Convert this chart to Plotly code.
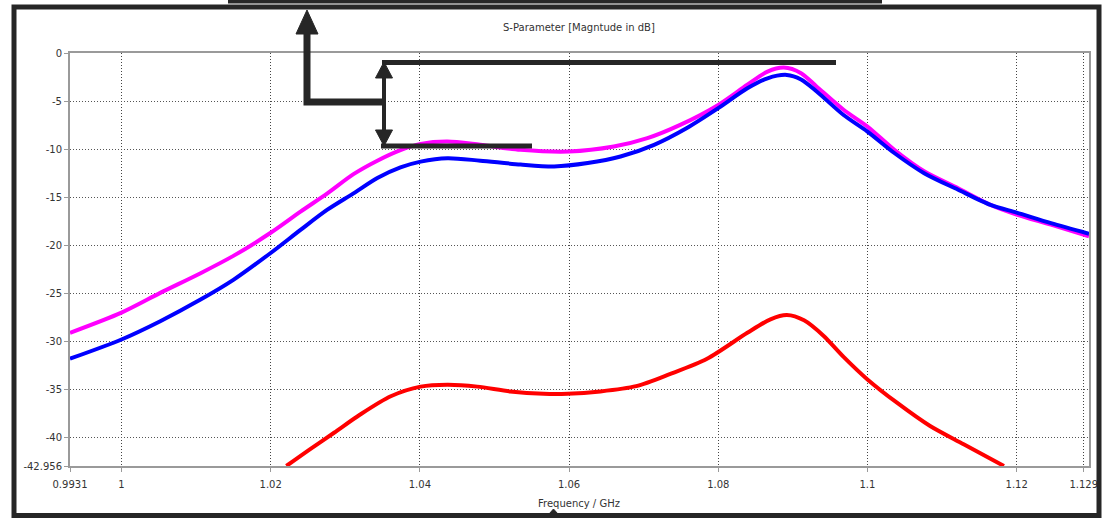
import plotly.graph_objects as go

# ---- data ----
freq_s11 = [0.9931, 1.0, 1.0052, 1.0106, 1.015, 1.02, 1.024, 1.0276, 1.0311, 1.0343, 1.0374,
            1.0401, 1.0437, 1.0481, 1.0535, 1.06, 1.066, 1.0705, 1.0749, 1.08, 1.0839, 1.0866,
            1.0888, 1.0911, 1.0932, 1.0968, 1.1, 1.1036, 1.1076, 1.1121, 1.1165, 1.12, 1.1246, 1.1297]
mag_s11 = [-29.1, -27.0, -24.95, -22.9, -21.1, -18.7, -16.5, -14.6, -12.6, -11.2, -10.1,
           -9.45, -9.2, -9.55, -10.07, -10.25, -9.73, -8.86, -7.48, -5.4, -3.3, -1.94,
           -1.52, -2.1, -3.5, -5.9, -7.65, -10.07, -12.3, -14.05, -15.8, -16.8, -17.86, -19.07]

freq_s22 = [0.9931, 1.0, 1.0052, 1.0106, 1.015, 1.02, 1.024, 1.0276, 1.0311, 1.0343, 1.0374,
            1.0401, 1.0437, 1.0481, 1.0535, 1.058, 1.0625, 1.0669, 1.0714, 1.0758, 1.08, 1.0839,
            1.0866, 1.0892, 1.0911, 1.0932, 1.0968, 1.1, 1.1036, 1.1076, 1.1121, 1.1165, 1.12,
            1.1246, 1.1297]
mag_s22 = [-31.8, -29.8, -27.9, -25.65, -23.6, -20.8, -18.4, -16.3, -14.6, -13.0, -11.9,
           -11.3, -10.94, -11.2, -11.6, -11.8, -11.45, -10.77, -9.55, -7.8, -5.74, -3.67,
           -2.63, -2.28, -2.75, -4.0, -6.45, -8.17, -10.4, -12.5, -14.2, -15.8, -16.6,
           -17.7, -18.8]

freq_s21 = [1.0221, 1.0253, 1.0285, 1.032, 1.0361, 1.0401, 1.0437, 1.0477, 1.0521, 1.0566,
            1.0598, 1.0642, 1.069, 1.0735, 1.0785, 1.0839, 1.087, 1.0892, 1.0915, 1.0941,
            1.0968, 1.1, 1.104, 1.1084, 1.1129, 1.1183]
mag_s21 = [-42.956, -41.2, -39.5, -37.6, -35.7, -34.7, -34.5, -34.7, -35.2, -35.45,
           -35.45, -35.2, -34.65, -33.4, -31.8, -29.1, -27.7, -27.25, -27.8, -29.4,
           -31.6, -33.95, -36.4, -38.8, -40.7, -42.956]

x_tickvals = [0.9931, 1.0, 1.02, 1.04, 1.06, 1.08, 1.1, 1.12, 1.129]
x_ticktext = ["0.9931", "1", "1.02", "1.04", "1.06", "1.08", "1.1", "1.12", "1.129"]
y_tickvals = [0, -5, -10, -15, -20, -25, -30, -35, -40, -42.956]
y_ticktext = ["0", "-5", "-10", "-15", "-20", "-25", "-30", "-35", "-40", "-42.956"]

title_text = "S-Parameter [Magntude in dB]"
xaxis_text = "Frequency / GHz"

# ---- figure ----
W, H = 1111, 518
ML, MR, MT, MB = 70, 22, 53, 52
PW, PH = W - ML - MR, H - MT - MB

def px(x):
    return (x - ML) / PW

def py(y):
    return (H - MB - y) / PH

def path(pts, close=False):
    s = "M " + " L ".join(f"{px(a):.5f},{py(b):.5f}" for a, b in pts)
    return s + (" Z" if close else "")

fig = go.Figure()
for f, m, c in [(freq_s11, mag_s11, "#ff00ff"), (freq_s22, mag_s22, "#0000ff"),
                (freq_s21, mag_s21, "#ff0000")]:
    fig.add_trace(go.Scatter(x=f, y=m, mode="lines",
                             line=dict(color=c, width=4, shape="spline", smoothing=0.8),
                             showlegend=False, hoverinfo="skip"))

dark = "#262626"
shapes = [
    # outer frame
    dict(type="rect", xref="paper", yref="paper", x0=px(14), x1=px(1099), y0=py(7), y1=py(515.5),
         line=dict(color=dark, width=5), fillcolor="rgba(0,0,0,0)", layer="above"),
    # top bar
    dict(type="line", xref="paper", yref="paper", x0=px(228), x1=px(882), y0=py(1.5), y1=py(1.5),
         line=dict(color=dark, width=4)),
    # bottom notch
    dict(type="path", xref="paper", yref="paper", path=path([(549, 514), (553.5, 509), (558, 514)], True),
         fillcolor=dark, line=dict(color=dark, width=1)),
    # big arrow
    dict(type="path", xref="paper", yref="paper", path=path([(384, 102), (307, 102), (307, 30)]),
         line=dict(color=dark, width=7)),
    dict(type="path", xref="paper", yref="paper", path=path([(296, 34), (318, 34), (307, 10)], True),
         fillcolor=dark, line=dict(color=dark, width=1)),
    # double arrow
    dict(type="line", xref="paper", yref="paper", x0=px(384), x1=px(384), y0=py(75), y1=py(133),
         line=dict(color=dark, width=4)),
    dict(type="path", xref="paper", yref="paper", path=path([(375.5, 78), (392.5, 78), (384, 62)], True),
         fillcolor=dark, line=dict(color=dark, width=1)),
    dict(type="path", xref="paper", yref="paper", path=path([(375.5, 130), (392.5, 130), (384, 146)], True),
         fillcolor=dark, line=dict(color=dark, width=1)),
    # horizontal level lines
    dict(type="line", xref="paper", yref="paper", x0=px(382), x1=px(836), y0=py(62.5), y1=py(62.5),
         line=dict(color=dark, width=5)),
    dict(type="line", xref="paper", yref="paper", x0=px(381), x1=px(532), y0=py(146), y1=py(146),
         line=dict(color=dark, width=5)),
]

font = dict(family="DejaVu Sans", size=10, color="#333333")

fig.update_layout(
    width=W, height=H,
    margin=dict(l=ML, r=MR, t=MT, b=MB, autoexpand=False),
    paper_bgcolor="white", plot_bgcolor="white",
    font=font,
    shapes=shapes,
    annotations=[
        dict(text=title_text, xref="paper", yref="paper", x=px(579), y=py(27),
             xanchor="center", yanchor="middle", showarrow=False, font=font),
        dict(text=xaxis_text, xref="paper", yref="paper", x=px(579), y=py(503),
             xanchor="center", yanchor="middle", showarrow=False, font=font),
    ],
    xaxis=dict(range=[0.9931, 1.1297], tickvals=x_tickvals, ticktext=x_ticktext,
               showgrid=True, gridcolor="#444444", griddash="1px,2px", gridwidth=1,
               showline=True, linecolor="#9a9a9a", linewidth=2, mirror=True,
               ticks="outside", ticklen=4, tickcolor="#9a9a9a", zeroline=False,
               tickfont=font, ticklabelstandoff=4),
    yaxis=dict(range=[-42.956, 0], tickvals=y_tickvals, ticktext=y_ticktext,
               showgrid=True, gridcolor="#555555", griddash="1px,2px", gridwidth=1,
               showline=True, linecolor="#9a9a9a", linewidth=2, mirror=True,
               ticks="outside", ticklen=4, tickcolor="#9a9a9a", zeroline=False,
               tickfont=font),
)

fig.write_html("out.html", config={"displayModeBar": False},
               post_script="document.body.style.margin='0';document.body.style.padding='0';"
                           "document.body.style.overflow='hidden';")
